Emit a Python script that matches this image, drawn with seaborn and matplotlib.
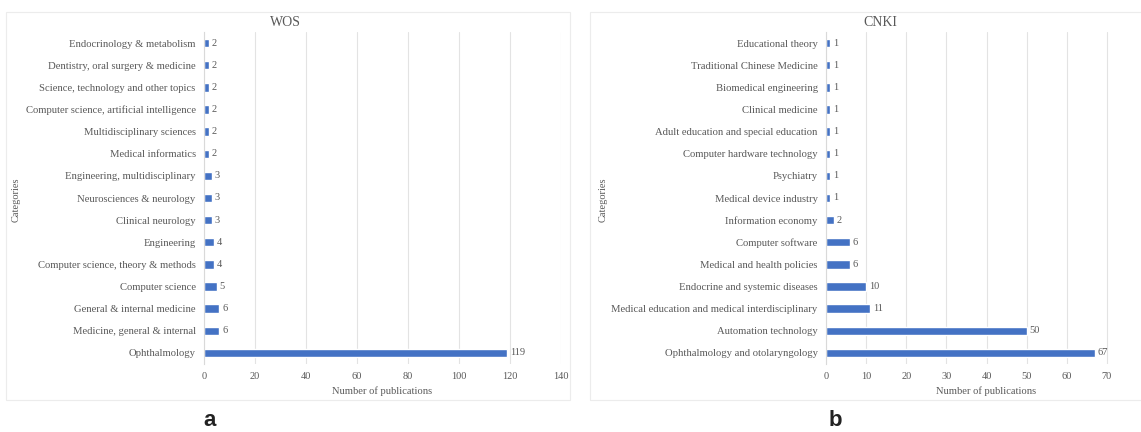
import matplotlib
matplotlib.use("Agg")
import matplotlib.pyplot as plt
import seaborn as sns
import pandas as pd
from matplotlib.patches import Rectangle

wos_categories = [
    "Endocrinology & metabolism",
    "Dentistry, oral surgery & medicine",
    "Science, technology and other topics",
    "Computer science, artificial intelligence",
    "Multidisciplinary sciences",
    "Medical informatics",
    "Engineering, multidisciplinary",
    "Neurosciences & neurology",
    "Clinical neurology",
    "Engineering",
    "Computer science, theory & methods",
    "Computer science",
    "General & internal medicine",
    "Medicine, general & internal",
    "Ophthalmology",
]
wos_values = [2, 2, 2, 2, 2, 2, 3, 3, 3, 4, 4, 5, 6, 6, 119]
wos_ticks = [0, 20, 40, 60, 80, 100, 120, 140]

cnki_categories = [
    "Educational theory",
    "Traditional Chinese Medicine",
    "Biomedical engineering",
    "Clinical medicine",
    "Adult education and special education",
    "Computer hardware technology",
    "Psychiatry",
    "Medical device industry",
    "Information economy",
    "Computer software",
    "Medical and health policies",
    "Endocrine and systemic diseases",
    "Medical education and medical interdisciplinary",
    "Automation technology",
    "Ophthalmology and otolaryngology",
]
cnki_values = [1, 1, 1, 1, 1, 1, 1, 1, 2, 6, 6, 10, 11, 50, 67]
cnki_ticks = [0, 10, 20, 30, 40, 50, 60, 70, 80]

sns.set_theme(style="white")
plt.rcParams["font.family"] = ["Liberation Serif", "DejaVu Serif"]

W, H = 1141, 432
fig = plt.figure(figsize=(W / 100, H / 100), dpi=100)

BLUE = "#4472C4"
TXT = "#595959"
GRID = "#e3e3e3"


def px_axes(x0, x1, y0, y1):
    return fig.add_axes([x0 / W, 1 - y1 / H, (x1 - x0) / W, (y1 - y0) / H])


def panel(ax, cats, vals, ticks, title, title_x, cat_x, letter, letter_x):
    df = pd.DataFrame({"cat": cats, "val": vals})
    sns.barplot(data=df, x="val", y="cat", orient="h", color=BLUE,
                saturation=1, width=0.38, ax=ax)
    ax.set_xlim(ticks[0], ticks[-1])
    ax.set_xticks(ticks)
    ax.set_xticklabels([str(t) for t in ticks])
    ax.tick_params(axis="x", length=0, pad=6, labelsize=7.5, labelcolor=TXT)
    ax.tick_params(axis="y", length=0, pad=6, labelsize=7.7, labelcolor=TXT)
    ax.grid(axis="x", color=GRID, linewidth=0.8)
    ax.set_axisbelow(True)
    for s in ["top", "right", "bottom"]:
        ax.spines[s].set_visible(False)
    ax.spines["left"].set_color("#d9d9d9")
    ax.spines["left"].set_linewidth(0.8)
    ax.set_ylabel("")
    ax.set_xlabel("Number of publications", fontsize=7.6, color=TXT, labelpad=3.5)
    for c in ax.containers:
        ax.bar_label(c, padding=2, fontsize=7.5, color=TXT)
    fig.text(title_x / W, 1 - 23 / H, title, ha="center", va="center",
             fontsize=10, color=TXT)
    fig.text(cat_x / W, 1 - 200 / H, "Categories", ha="center", va="center",
             rotation=90, fontsize=7.5, color=TXT)
    fig.text(letter_x / W, 1 - 421 / H, letter, ha="center", va="center",
             fontsize=16, fontweight="bold", family="Liberation Sans",
             color="#222222")


# chart-area frames
fig.patches.append(Rectangle((6 / W, 1 - 400 / H), (570 - 6) / W, (400 - 12) / H,
                             transform=fig.transFigure, fill=False,
                             edgecolor="#ececec", linewidth=0.8))
fig.patches.append(Rectangle((590 / W, 1 - 400 / H), (1175 - 590) / W, (400 - 12) / H,
                             transform=fig.transFigure, fill=False,
                             edgecolor="#ececec", linewidth=0.8))

ax1 = px_axes(204, 561, 32, 364)
panel(ax1, wos_categories, wos_values, wos_ticks, "WOS", 285, 16, "a", 210)

ax2 = px_axes(826, 1147, 32, 364)
panel(ax2, cnki_categories, cnki_values, cnki_ticks, "CNKI", 880, 603, "b", 835)

fig.savefig("out.png", dpi=100)
